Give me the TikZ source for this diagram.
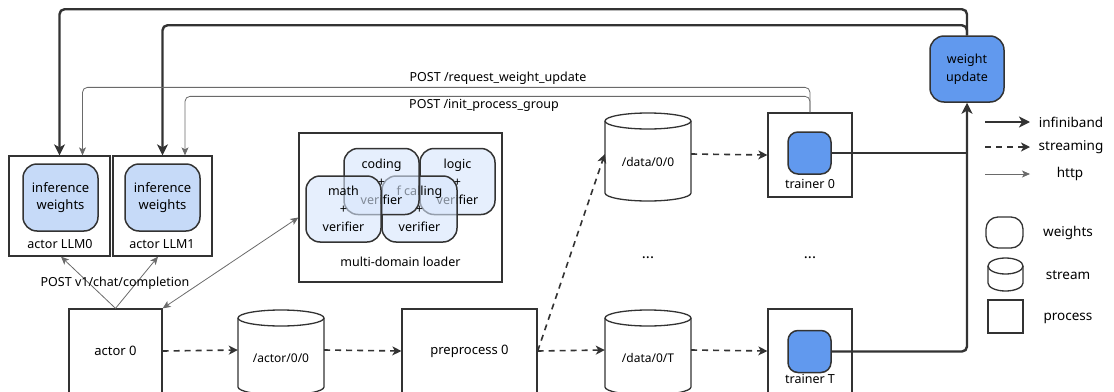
\documentclass[tikz,border=0pt]{standalone}
\usepackage{fontspec}
\setmainfont{Noto Sans}
\usetikzlibrary{arrows.meta,calc}
\definecolor{ink}{HTML}{333333}
\definecolor{lblue}{HTML}{C6DAF8}
\definecolor{vblue}{HTML}{D6E5FB}
\definecolor{mblue}{HTML}{6199EE}
\definecolor{httpc}{HTML}{6A6A6A}
\newcommand\drawcyl[4]{%
  \draw[box] (#1-#4,#2) -- (#1-#4,#3) arc[start angle=180,end angle=360,x radius=#4pt,y radius=8pt] -- (#1+#4,#2);
  \draw[box] (#1,#2) ellipse[x radius=#4pt,y radius=8pt];}
\begin{document}
\begin{tikzpicture}[x=1pt,y=-1pt,
  font=\fontsize{12.5}{15}\selectfont,
  box/.style={draw=ink, line width=1.3pt},
  proc/.style={box, rectangle, inner sep=0pt},
  wblob/.style={draw=ink, line width=1.5pt, rounded corners=14pt, align=center, inner sep=0pt},
  vblob/.style={wblob, fill=vblue, fill opacity=0.6, text opacity=1, minimum width=75pt, minimum height=66pt, font=\fontsize{12.5}{18}\selectfont},
  tblob/.style={draw=ink, line width=1.5pt, rounded corners=10pt, fill=mblue, minimum width=43pt, minimum height=42pt, inner sep=0pt},
  ib/.style={draw=ink, line width=2.4pt},
  ibarrow/.style={ib, -{Stealth[length=11pt,width=11pt,inset=3pt]}},
  strm/.style={draw=ink, line width=1.6pt, dash pattern=on 6pt off 5pt, -{Stealth[length=9pt,width=9pt,inset=2.5pt]}},
  http/.style={draw=httpc, line width=0.8pt, -{Stealth[length=8pt,width=7pt,inset=2pt]}},
  lbl/.style={font=\fontsize{12}{14}\selectfont, inner sep=0pt},
  plbl/.style={font=\fontsize{12.5}{14}\selectfont, inner sep=0pt},
  leg/.style={font=\fontsize{13.5}{16}\selectfont, inner sep=0pt},
  dotsty/.style={font=\fontsize{15}{16}\bfseries, inner sep=0pt},
]
\useasboundingbox (0,0) rectangle (1114,391);

% actor LLM boxes
\node[proc, minimum width=101pt, minimum height=100pt] (llm0) at (59.5,206) {};
\node[proc, minimum width=99pt, minimum height=100pt] (llm1) at (162.5,206) {};
\node[wblob, fill=lblue, minimum width=75pt, minimum height=67pt, font=\fontsize{13}{17}\selectfont] (iw0) at (60.5,197.5) {inference\\weights};
\node[wblob, fill=lblue, minimum width=75pt, minimum height=67pt, font=\fontsize{13}{17}\selectfont] (iw1) at (162.5,197.5) {inference\\weights};
\node[inner sep=0pt] (l0) at (60,244) {actor LLM0};
\node[inner sep=0pt] (l1) at (162,244) {actor LLM1};

% multi-domain loader
\node[proc, minimum width=203pt, minimum height=149pt] (loader) at (400.5,207.5) {};
\node[vblob] (logic) at (457.5,181.5) {logic\\+\\verifier};
\node[vblob] (fcall) at (419.5,209) {f calling\\+\\verifier};
\node[vblob] (coding) at (381.5,181.5) {coding\\+\\verifier};
\node[vblob] (math) at (343.5,209) {math\\+\\verifier};
\node[inner sep=0pt] (mdl) at (400.5,262) {multi-domain loader};

% bottom row
\node[proc, minimum width=93pt, minimum height=84pt, font=\fontsize{13}{15}\selectfont] (a0) at (115.5,351) {actor 0};
\drawcyl{281}{318}{387}{43}
\node[lbl, minimum width=86pt] (ca) at (281,358) {/actor/0/0};
\node[proc, minimum width=135pt, minimum height=84pt, font=\fontsize{13}{15}\selectfont] (pp) at (469.5,351) {preprocess 0};
\drawcyl{648}{121}{193}{43}
\node[lbl, minimum width=86pt] (d0) at (648,162) {/data/0/0};
\drawcyl{648}{318}{387}{43}
\node[lbl, minimum width=86pt] (dT) at (648,358) {/data/0/T};
\node[dotsty] (dots1) at (648,258) {...};
\node[dotsty] (dots2) at (810,258) {...};

% trainers
\node[proc, minimum width=84pt, minimum height=84pt] (t0) at (810,155) {};
\node[tblob] (tb0) at (809.5,153) {};
\node[plbl] (t0l) at (810,184) {trainer 0};
\node[proc, minimum width=84pt, minimum height=84pt] (tT) at (810,351) {};
\node[tblob] (tbT) at (809.5,351.5) {};
\node[plbl] (tTl) at (810,379) {trainer T};

% weight update
\node[wblob, fill=mblue, minimum width=74pt, minimum height=66pt, font=\fontsize{12.5}{18}\selectfont] (wu) at (967,69) {weight\\update};

% infiniband
\draw[ibarrow, rounded corners=5pt] (wu.north) -- ++(0,-26) -| (llm0.north);
\draw[ibarrow, rounded corners=5pt] (wu.north) -- ++(0,-10) -| (llm1.north);
\draw[ib] (tb0.east) -- (tb0.east -| wu.south);
\draw[ibarrow, rounded corners=5pt] (tbT.east) -| (wu.south);

% http
\draw[http, rounded corners=5pt] (t0.north) -- ++(0,-25) -| ($(llm0.north)+(23,0)$);
\draw[http, rounded corners=5pt] (t0.north) -- ++(0,-16) -| ($(llm1.north)+(22.5,0)$);
\node[plbl] (req) at (498,78) {POST /request\_weight\_update};
\node[plbl] (ini) at (484,105) {POST /init\_process\_group};
\draw[http] (a0.north) -- ($(llm0.south)+(1.5,0)$);
\draw[http] (a0.north) -- ($(llm1.south)+(-4.5,0)$);
\node[plbl] (chat) at (115,283) {POST v1/chat/completion};
\draw[http, {Stealth[length=8pt,width=7pt,inset=2pt]}-{Stealth[length=8pt,width=7pt,inset=2pt]}] (a0.north east) -- ($(loader.west)+(0,10)$);

% streaming
\draw[strm] (a0.east) -- ($(ca.west)+(0,-8)$);
\draw[strm] ($(ca.east)+(0,-8)$) -- (pp.west);
\draw[strm] (pp.east) -- ($(d0.west)+(0,-8)$);
\draw[strm] (pp.east) -- ($(dT.west)+(0,-8)$);
\draw[strm] ($(d0.east)+(0,-8)$) -- (t0.west);
\draw[strm] ($(dT.east)+(0,-8)$) -- (tT.west);

% legend
\coordinate (ib1) at (985,122); \coordinate (ib2) at (1030,122);
\coordinate (st1) at (985,147); \coordinate (st2) at (1030,147);
\coordinate (ht1) at (985,174); \coordinate (ht2) at (1030,174);
\draw[ibarrow] (ib1) -- (ib2);
\draw[strm] (st1) -- (st2);
\draw[http] (ht1) -- (ht2);
\node[leg] (lgib) at (1071,122) {infiniband};
\node[leg] (lgst) at (1071,147) {streaming};
\node[leg] (lght) at (1070,174) {http};
\node[draw=ink, line width=1.3pt, rounded corners=12pt, minimum width=37pt, minimum height=31pt, inner sep=0pt] (lgw) at (1004.5,232.5) {};
\node[leg] (lgwt) at (1068,233) {weights};
\drawcyl{1005.5}{266}{283}{17.5}
\node[leg] (lgs) at (1068,275) {stream};
\node[proc, minimum width=35pt, minimum height=33pt] (lgp) at (1005.5,316.5) {};
\node[leg] (lgpt) at (1068,318) {process};
\end{tikzpicture}
\end{document}
